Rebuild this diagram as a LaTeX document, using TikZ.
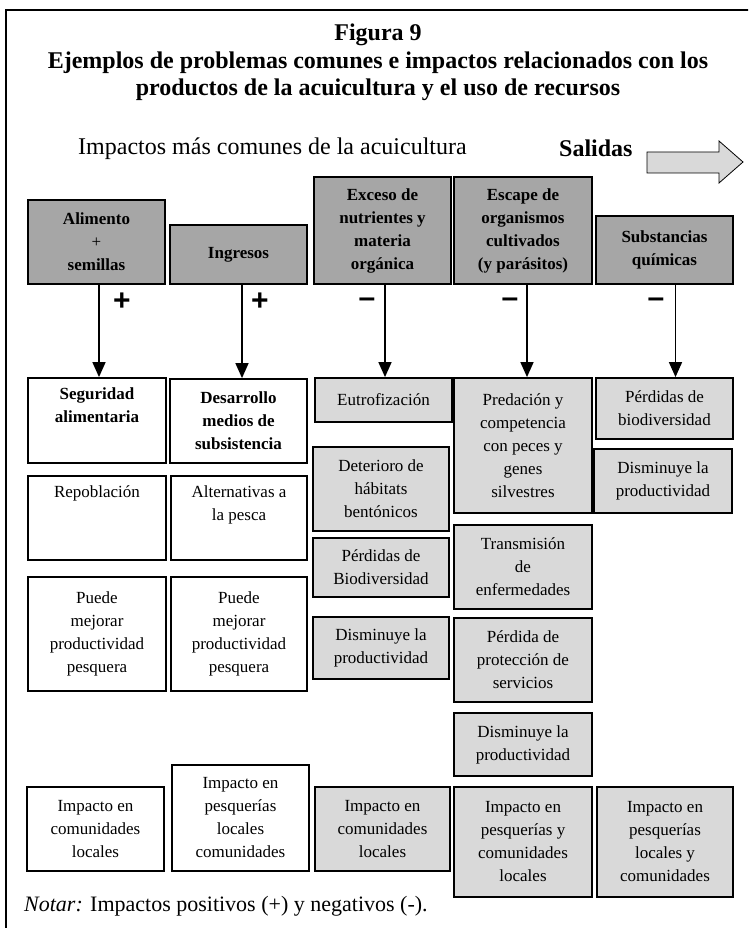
\documentclass[tikz,border=0pt]{standalone}
\usepackage{fontspec}
\setmainfont{Liberation Serif}
\newfontfamily\signfont{Liberation Sans}
\usetikzlibrary{arrows.meta}
\definecolor{topgray}{HTML}{A6A6A6}
\definecolor{neggray}{HTML}{D9D9D9}
\begin{document}
\begin{tikzpicture}[x=1pt,y=-1pt,
  box/.style={draw, line width=1.8pt, align=center, inner sep=0pt, font=\fontsize{17}{23}\selectfont},
  topbox/.style={box, fill=topgray, font=\bfseries\fontsize{17}{23}\selectfont},
  posbox/.style={box, fill=white},
  negbox/.style={box, fill=neggray},
  sign/.style={font=\signfont\bfseries\fontsize{30}{30}\selectfont, inner sep=0pt},
  conn/.style={line width=1.5pt, -{Triangle[width=13pt,length=15pt]}},
]
\useasboundingbox (0,0) rectangle (748,928);
\clip (0,0) rectangle (748,928);
\fill[white] (0,0) rectangle (748,928);
\draw[line width=1.8pt] (6,940) -- (6,10) -- (760,10);

% titles
\node[font=\bfseries\fontsize{24}{27.5}\selectfont, align=center] (title) at (378,62.5)
  {Figura 9\\Ejemplos de problemas comunes e impactos relacionados con los\\productos de la acuicultura y el uso de recursos};
\node[anchor=west, font=\fontsize{24}{28}\selectfont, inner sep=0pt] (imp) at (78,149) {Impactos más comunes de la acuicultura};
\node[anchor=west, font=\bfseries\fontsize{24}{28}\selectfont, inner sep=0pt] (sal) at (559,148) {Salidas};
\draw[line width=0.8pt, fill=neggray] (647,152) -- (719,152) -- (719,141) -- (743,162) -- (719,183) -- (719,173) -- (647,173) -- cycle;

% top boxes
\node[topbox, minimum width=137pt, minimum height=84pt] (a1) at (96.5,242) {Alimento\\\textmd{+}\\semillas};
\node[topbox, minimum width=137pt, minimum height=59pt] (a2) at (238.5,254.5) {Ingresos};
\node[topbox, minimum width=137pt, minimum height=107pt] (a3) at (382.5,230.5) {Exceso de\\nutrientes y\\materia\\orgánica};
\node[topbox, minimum width=138pt, minimum height=107pt] (a4) at (523,230.5) {Escape de\\organismos\\cultivados\\(y parásitos)};
\node[topbox, minimum width=137pt, minimum height=68pt] (a5) at (664.5,250) {Substancias\\químicas};

% column 1
\node[posbox, minimum width=138pt, minimum height=85pt, font=\bfseries\fontsize{17}{23}\selectfont] (b1) at (97,420.5) {Seguridad\\alimentaria\\\strut};
\node[posbox, minimum width=138pt, minimum height=84pt] (c1) at (97,518) {Repoblación\\\strut\\\strut};
\node[posbox, minimum width=138pt, minimum height=114pt] (d1) at (97,634) {Puede\\mejorar\\productividad\\pesquera};
\node[posbox, minimum width=137pt, minimum height=84pt] (e1) at (95.5,829) {Impacto en\\comunidades\\locales};

% column 2
\node[posbox, minimum width=137pt, minimum height=84pt, font=\bfseries\fontsize{17}{23}\selectfont] (b2) at (238.5,421) {Desarrollo\\medios de\\subsistencia};
\node[posbox, minimum width=136pt, minimum height=84pt] (c2) at (239,518) {Alternativas a\\la pesca\\\strut};
\node[posbox, minimum width=136pt, minimum height=114pt] (d2) at (239,634) {Puede\\mejorar\\productividad\\pesquera};
\node[posbox, minimum width=137pt, minimum height=106pt] (e2) at (240.5,818) {Impacto en\\pesquerías\\locales\\comunidades};

% column 3
\node[negbox, minimum width=137pt, minimum height=44pt] (b3) at (383.5,400) {Eutrofización};
\node[negbox, minimum width=136pt, minimum height=84pt] (c3) at (381,489) {Deterioro de\\hábitats\\bentónicos};
\node[negbox, minimum width=136pt, minimum height=59pt] (d3) at (381,567.5) {Pérdidas de\\Biodiversidad};
\node[negbox, minimum width=136pt, minimum height=62pt] (f3) at (381,648) {Disminuye la\\productividad};
\node[negbox, minimum width=135pt, minimum height=84pt] (e3) at (382.5,829) {Impacto en\\comunidades\\locales};

% column 4
\node[negbox, minimum width=138pt, minimum height=135pt] (b4) at (523,445.5) {Predación y\\competencia\\con peces y\\genes\\silvestres};
\node[negbox, minimum width=138pt, minimum height=84pt] (c4) at (523,567) {Transmisión\\de\\enfermedades};
\node[negbox, minimum width=138pt, minimum height=84pt] (d4) at (523,660) {Pérdida de\\protección de\\servicios};
\node[negbox, minimum width=138pt, minimum height=63pt] (f4) at (523,744.5) {Disminuye la\\productividad};
\node[negbox, minimum width=138pt, minimum height=110pt] (e4) at (523,842) {Impacto en\\pesquerías y\\comunidades\\locales};

% column 5
\node[negbox, minimum width=137pt, minimum height=61pt] (b5) at (664.5,408.5) {Pérdidas de\\biodiversidad};
\node[negbox, minimum width=138pt, minimum height=64pt] (c5) at (663,481) {Disminuye la\\productividad};
\node[negbox, minimum width=136pt, minimum height=110pt] (e5) at (665,842) {Impacto en\\pesquerías\\locales y\\comunidades};

% connectors
\draw[conn] ([xshift=2.5pt]a1.south) -- ([xshift=2pt]b1.north);
\draw[conn] ([xshift=3.5pt]a2.south) -- ([xshift=3.5pt]b2.north);
\draw[conn] ([xshift=2.5pt]a3.south) -- ([xshift=1.5pt]b3.north);
\draw[conn] ([xshift=4pt]a4.south) -- ([xshift=4pt]b4.north);
\draw[conn] ([xshift=11pt]a5.south) -- ([xshift=11pt]b5.north);

% signs
\node[sign] (p1) at (122,302) {+};
\node[sign] (p2) at (260,302) {+};
\node[sign] (m3) at (367,303) {–};
\node[sign] (m4) at (510,303) {–};
\node[sign] (m5) at (656,303) {–};

% note
\node[anchor=west, font=\fontsize{22}{26}\selectfont, inner sep=0pt] (note) at (24,906) {\textit{Notar:} Impactos positivos (+) y negativos (-).};
\end{tikzpicture}
\end{document}
